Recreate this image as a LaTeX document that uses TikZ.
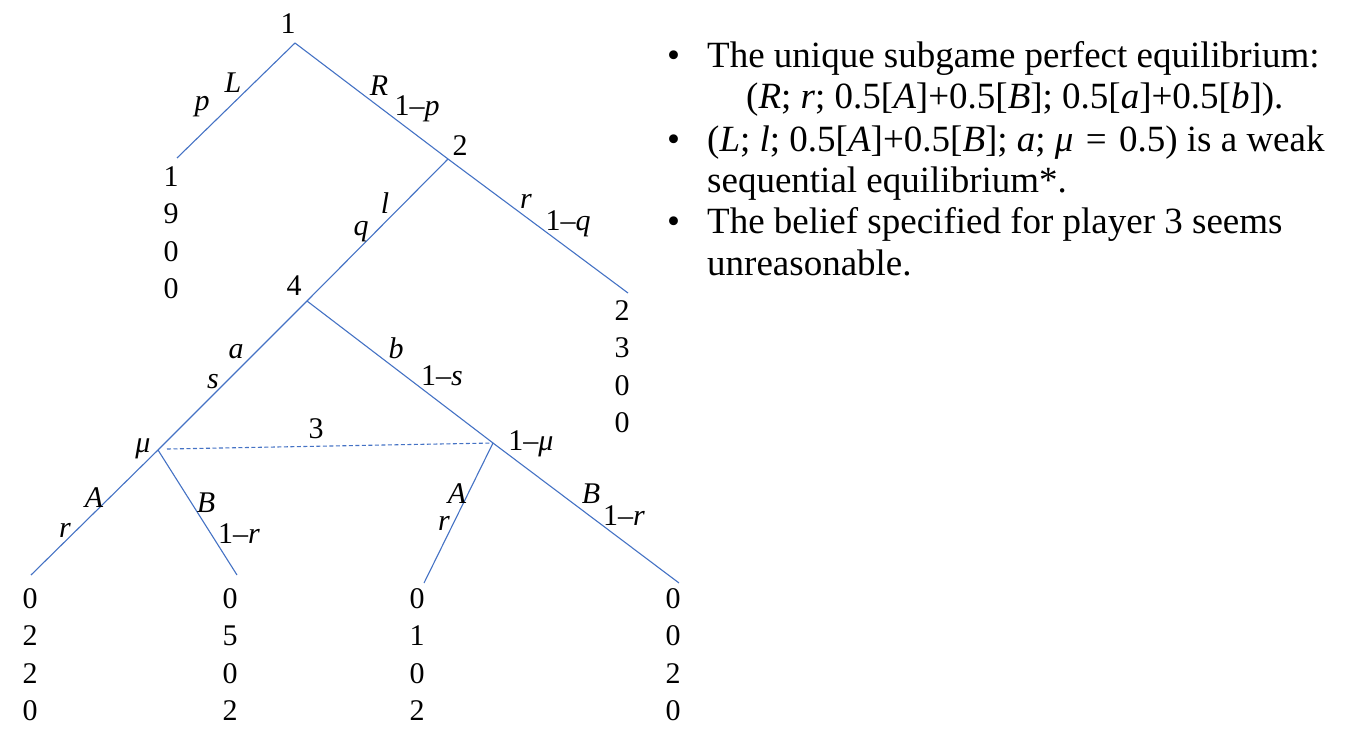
\documentclass[tikz,border=0pt]{standalone}
\usepackage{fontspec}
\setmainfont{Liberation Serif}
\definecolor{lineblue}{HTML}{4472C4}
\begin{document}
\begin{tikzpicture}[x=1pt,y=-1pt,
  edge/.style={draw=lineblue, line width=1.1pt},
  info/.style={draw=lineblue, line width=1.1pt, dash pattern=on 4pt off 2.5pt},
  lbl/.style={font=\fontsize{30}{36}\selectfont, inner sep=0pt, anchor=base},
  pay/.style={font=\fontsize{30}{37.5}\selectfont, inner sep=0pt, anchor=north, align=center},
  txt/.style={font=\fontsize{37}{42}\selectfont, inner sep=0pt, anchor=base west}]
\useasboundingbox (0,0) rectangle (1346,744);
% decision points
\coordinate (n1) at (295,43);
\coordinate (n2) at (448,159);
\coordinate (n4) at (307,301);
\coordinate (n3a) at (158,450);
\coordinate (n3b) at (493,443);
\coordinate (i1) at (167,449);
% terminal ends
\coordinate (e1) at (177,158);
\coordinate (e2) at (628,293);
\coordinate (e3) at (31,575);
\coordinate (e4) at (237,575);
\coordinate (e5) at (424,583);
\coordinate (e6) at (679,583);
% branches
\draw[edge] (n1) -- (e1);
\draw[edge] (n1) -- (n2);
\draw[edge] (n2) -- (e2);
\draw[edge] (n2) -- (n4);
\draw[edge] (n4) -- (n3a);
\draw[edge] (n4) -- (n3b);
\draw[edge] (n3a) -- (e3);
\draw[edge] (n3a) -- (e4);
\draw[edge] (n3b) -- (e5);
\draw[edge] (n3b) -- (e6);
\draw[info] (i1) -- (n3b);
% player labels
\node[lbl] (p1) at (288,33) {1};
\node[lbl] (p2) at (460,155) {2};
\node[lbl] (p4) at (294,295) {4};
\node[lbl] (p3) at (316,438) {3};
\node[lbl] (mu) at (143,452) {\textit{μ}};
\node[lbl] (omu) at (531,450) {1–\textit{μ}};
% action labels
\node[lbl] (aL) at (233,92) {\textit{L}};
\node[lbl] (pp) at (202,110) {\textit{p}};
\node[lbl] (aR) at (379,95) {\textit{R}};
\node[lbl] (op) at (417,115) {1–\textit{p}};
\node[lbl] (al) at (385,213) {\textit{l}};
\node[lbl] (pq) at (361,235) {\textit{q}};
\node[lbl] (ar) at (526,208) {\textit{r}};
\node[lbl] (oq) at (568,230) {1–\textit{q}};
\node[lbl] (aa) at (236,358) {\textit{a}};
\node[lbl] (ps) at (213,388) {\textit{s}};
\node[lbl] (ab) at (396,358) {\textit{b}};
\node[lbl] (os) at (442,385) {1–\textit{s}};
\node[lbl] (aA1) at (94,507) {\textit{A}};
\node[lbl] (pr1) at (65,537) {\textit{r}};
\node[lbl] (aB1) at (206,512) {\textit{B}};
\node[lbl] (or1) at (239,543) {1–\textit{r}};
\node[lbl] (aA2) at (457,503) {\textit{A}};
\node[lbl] (pr2) at (444,530) {\textit{r}};
\node[lbl] (aB2) at (591,503) {\textit{B}};
\node[lbl] (or2) at (624,525) {1–\textit{r}};
% payoffs
\node[pay] (t1) at (171,166) {1\\9\\0\\0};
\node[pay] (t2) at (622,300) {2\\3\\0\\0};
\node[pay] (t3) at (30,588) {0\\2\\2\\0};
\node[pay] (t4) at (230,588) {0\\5\\0\\2};
\node[pay] (t5) at (417,588) {0\\1\\0\\2};
\node[pay] (t6) at (673,588) {0\\0\\2\\0};
% text
\node[txt] (b1) at (667,67) {•};
\node[txt] (b2) at (667,151) {•};
\node[txt] (b3) at (667,233) {•};
\node[txt] (l1) at (707,67) {The unique subgame perfect equilibrium:};
\node[txt] (l2) at (746,108) {(\textit{R}; \textit{r}; 0.5[\textit{A}]+0.5[\textit{B}]; 0.5[\textit{a}]+0.5[\textit{b}]).};
\node[txt] (l3) at (707,151) {(\textit{L}; \textit{l}; 0.5[\textit{A}]+0.5[\textit{B}]; \textit{a}; \textit{μ}\,\,=\,\,0.5) is a weak};
\node[txt] (l4) at (707,192) {sequential equilibrium*.};
\node[txt] (l5) at (707,233) {The belief specified for player 3 seems};
\node[txt] (l6) at (707,275) {unreasonable.};
\end{tikzpicture}
\end{document}
